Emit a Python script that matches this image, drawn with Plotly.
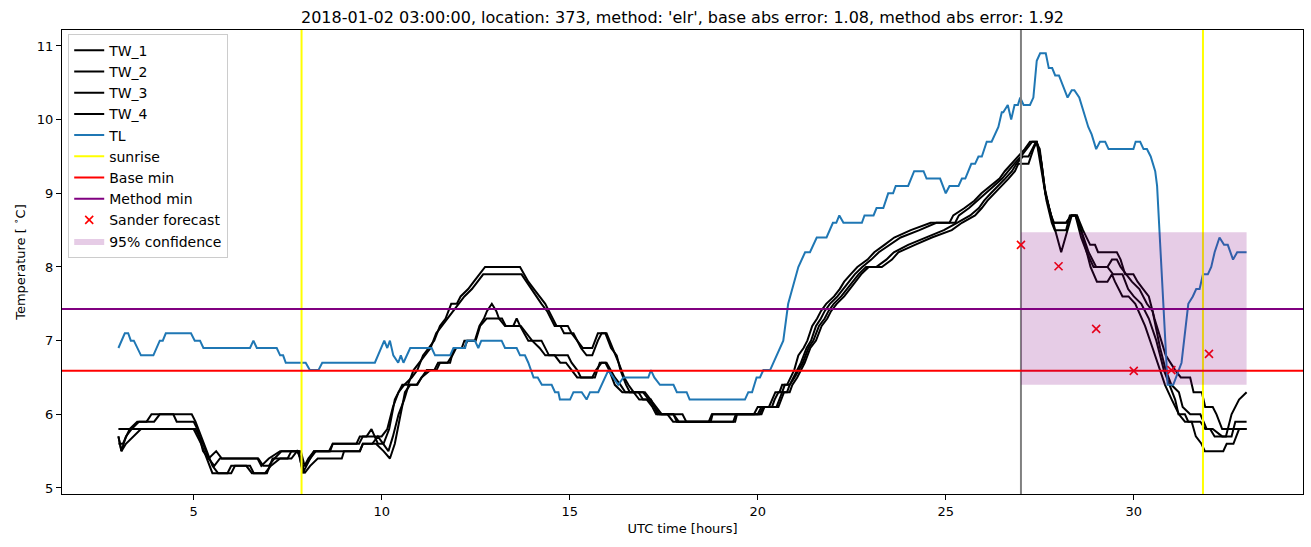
import plotly.graph_objects as go

# ---------------- data (hours UTC, temperature in deg C) ----------------
tl_t = [3.0, 3.17, 3.26, 3.33, 3.41, 3.6, 3.93, 4.1, 4.18, 4.26, 4.93, 5.03, 5.17, 5.26, 6.5, 6.59, 6.68,
        7.21, 7.3, 7.38, 7.45, 7.98, 8.09, 8.32, 8.42, 9.82, 10.07, 10.15, 10.22, 10.31, 10.44, 10.51, 10.58,
        10.76, 11.33, 11.42, 11.82, 11.91, 12.22, 12.26, 12.48, 12.57, 12.65, 13.19, 13.28, 13.59, 13.68,
        13.81, 13.9, 14.04, 14.15, 14.26, 14.52, 14.61, 14.7, 14.74, 15.01, 15.1, 15.32, 15.45, 15.54, 15.76,
        16.03, 16.29, 16.43, 17.09, 17.16, 17.25, 17.4, 17.76, 17.85, 18.11, 18.19, 19.66, 19.75, 19.85,
        19.97, 20.06, 20.15, 20.33, 20.68, 20.81, 21.08, 21.26, 21.39, 21.57, 21.83, 22.0, 22.09, 22.17,
        22.28, 22.77, 22.84, 23.08, 23.16, 23.34, 23.47, 23.6, 23.67, 24.0, 24.16, 24.41, 24.49, 24.85, 25.0,
        25.1, 25.34, 25.43, 25.52, 25.68, 25.78, 25.87, 25.96, 26.09, 26.22, 26.4, 26.49, 26.53, 26.65,
        26.74, 26.83, 26.92, 26.98, 27.07, 27.24, 27.33, 27.42, 27.51, 27.66, 27.74, 27.83, 27.91, 28.01,
        28.24, 28.35, 28.42, 28.55, 28.66, 28.79, 28.88, 29.0, 29.1, 29.24, 29.33, 29.99, 30.05, 30.17,
        30.26, 30.35, 30.45, 30.57, 30.62, 30.9, 31.05, 31.13, 31.27, 31.45, 31.57, 31.66, 31.75, 31.84,
        31.97, 32.06, 32.15, 32.28, 32.4, 32.5, 32.64, 32.75, 33.0]
tl_v = [6.9, 7.1, 7.1, 7.0, 7.0, 6.8, 6.8, 7.0, 7.0, 7.1, 7.1, 7.0, 7.0, 6.9, 6.9, 7.0, 6.9,
        6.9, 6.8, 6.8, 6.7, 6.7, 6.6, 6.6, 6.7, 6.7, 7.0, 6.9, 7.0, 6.8, 6.7, 6.8, 6.7,
        6.9, 6.9, 6.8, 6.8, 6.9, 6.9, 7.0, 7.0, 6.9, 7.0, 7.0, 6.9, 6.9, 6.8,
        6.8, 6.7, 6.5, 6.5, 6.4, 6.4, 6.3, 6.3, 6.2, 6.2, 6.3, 6.3, 6.2, 6.3, 6.3,
        6.6, 6.4, 6.5, 6.5, 6.6, 6.5, 6.4, 6.4, 6.3, 6.3, 6.2, 6.2, 6.3, 6.3,
        6.5, 6.5, 6.6, 6.6, 7.0, 7.5, 8.0, 8.2, 8.2, 8.4, 8.4, 8.6, 8.6, 8.7,
        8.6, 8.6, 8.7, 8.7, 8.8, 8.8, 9.0, 9.0, 9.1, 9.1, 9.3, 9.3, 9.2, 9.2, 9.0,
        9.1, 9.1, 9.2, 9.2, 9.4, 9.4, 9.5, 9.5, 9.7, 9.7, 9.9, 10.1, 10.1, 10.2,
        10.0, 10.2, 10.2, 10.3, 10.2, 10.2, 10.3, 10.8, 10.9, 10.9, 10.7, 10.7, 10.6, 10.6,
        10.3, 10.4, 10.4, 10.3, 10.1, 9.9, 9.8, 9.6, 9.7, 9.7, 9.6, 9.6, 9.7, 9.7,
        9.6, 9.6, 9.5, 9.3, 9.1, 6.4, 6.4, 6.5, 6.7, 7.5, 7.6, 7.7, 7.7, 7.9,
        7.9, 8.0, 8.2, 8.4, 8.3, 8.3, 8.1, 8.2, 8.2]

tw1_t = [3.0, 3.08, 3.2, 3.35, 3.55, 3.75, 3.88, 4.46, 4.55, 5.0, 5.1, 5.25, 5.4, 5.6, 5.75, 6.7, 6.8, 7.0,
         7.3, 7.85, 7.95, 8.1, 8.25, 8.6, 8.7, 9.4, 9.5, 10.0, 10.15, 10.3, 10.45, 10.6, 10.8, 10.95, 11.1,
         11.25, 11.4, 11.55, 11.7, 11.85, 12.0, 12.1, 12.3, 12.45, 12.6, 12.75, 13.68, 13.8, 13.9, 14.05,
         14.2, 14.35, 14.45, 14.55, 14.65, 14.95, 15.05, 15.2, 15.35, 15.6, 15.75, 15.95, 16.1, 16.25,
         16.35, 16.5, 16.6, 16.95, 17.1, 17.25, 17.4, 17.76, 17.9, 19.35, 19.42, 19.9, 20.0, 20.3, 20.38,
         20.47, 20.58, 20.65, 20.78, 20.88, 20.97, 21.08, 21.22, 21.32, 21.45, 21.58, 21.68, 21.82, 22.03,
         22.18, 22.3, 22.47, 22.65, 22.92, 23.1, 23.37, 23.63, 24.07, 24.6, 25.1, 25.2, 25.5, 25.76, 25.95,
         26.2, 26.43, 26.57, 26.75, 26.92, 27.1, 27.24, 27.42, 27.55, 27.65, 27.75, 27.85, 28.2, 28.33,
         28.49, 28.65, 28.84, 28.97, 29.05, 29.55, 29.65, 29.77, 29.99, 30.1, 30.25, 30.4, 30.55, 30.74,
         30.85, 31.1, 31.25, 31.5, 31.59, 31.81, 31.9, 32.1, 32.2, 32.35, 33.0]
tw1_v = [5.7, 5.5, 5.7, 5.8, 5.9, 5.9, 6.0, 6.0, 5.9, 5.9, 5.8, 5.5, 5.4, 5.5, 5.4, 5.4, 5.3, 5.4,
         5.5, 5.5, 5.3, 5.4, 5.5, 5.5, 5.6, 5.6, 5.7, 5.7, 5.8, 6.1, 6.3, 6.4, 6.5, 6.6, 6.8,
         6.9, 7.0, 7.2, 7.3, 7.5, 7.5, 7.6, 7.7, 7.8, 7.9, 8.0, 8.0, 7.9, 7.8, 7.7,
         7.6, 7.5, 7.4, 7.3, 7.2, 7.2, 7.1, 7.0, 6.9, 6.9, 7.1, 7.1, 6.9, 6.8,
         6.6, 6.4, 6.3, 6.3, 6.2, 6.1, 6.0, 6.0, 5.9, 5.9, 6.0, 6.0, 6.1, 6.1, 6.2,
         6.3, 6.3, 6.4, 6.4, 6.5, 6.6, 6.8, 6.9, 7.0, 7.2, 7.3, 7.4, 7.5, 7.6,
         7.7, 7.8, 7.9, 8.0, 8.1, 8.2, 8.3, 8.4, 8.5, 8.6, 8.6, 8.7, 8.8, 8.9, 9.0,
         9.1, 9.2, 9.3, 9.4, 9.5, 9.6, 9.7, 9.7, 9.4, 9.0, 8.8, 8.6, 8.6, 8.7,
         8.7, 8.5, 8.3, 8.3, 8.2, 8.2, 8.1, 7.9, 7.9, 7.8, 7.7, 7.6, 7.3, 7.0,
         6.8, 6.6, 6.5, 6.5, 6.3, 6.3, 6.1, 6.1, 6.0, 5.8, 5.8]

tw2_t = [3.0, 3.3, 3.5, 3.95, 4.1, 4.95, 5.05, 5.2, 5.35, 5.5, 5.65, 5.9, 6.0, 6.4, 6.55, 6.95, 7.1, 7.5,
         7.6, 7.8, 7.9, 8.0, 8.2, 8.63, 8.7, 9.33, 9.42, 9.6, 9.73, 9.9, 10.05, 10.2, 10.35, 10.55, 10.7,
         10.85, 11.0, 11.15, 11.3, 11.45, 11.6, 11.75, 11.9, 12.05, 12.2, 12.4, 12.55, 12.7, 13.72, 13.85,
         13.99, 14.1, 14.25, 14.4, 14.5, 14.6, 14.75, 14.85, 15.1, 15.2, 15.3, 15.45, 15.6, 15.75, 15.85,
         15.98, 16.15, 16.3, 16.45, 16.56, 16.7, 17.0, 17.15, 17.3, 17.45, 18.0, 18.1, 18.7, 18.78, 20.0,
         20.1, 20.38, 20.45, 20.55, 20.65, 20.72, 20.85, 20.95, 21.05, 21.15, 21.3, 21.42, 21.55, 21.68,
         21.78, 21.92, 22.12, 22.28, 22.42, 22.58, 22.78, 23.02, 23.22, 23.5, 23.8, 24.3, 24.75, 25.25,
         25.35, 25.62, 25.85, 26.05, 26.28, 26.5, 26.65, 26.82, 27.0, 27.15, 27.3, 27.42, 27.55, 27.68,
         27.82, 27.9, 28.2, 28.3, 28.45, 28.6, 28.75, 28.93, 29.3, 29.42, 29.55, 29.65, 29.8, 29.95, 30.15,
         30.35, 30.5, 30.7, 30.85, 31.0, 31.2, 31.3, 31.5, 31.77, 31.94, 32.03, 32.15, 32.6, 32.7, 33.0]
tw2_v = [5.8, 5.8, 5.9, 5.9, 6.0, 6.0, 5.9, 5.7, 5.5, 5.3, 5.2, 5.2, 5.3, 5.3, 5.2, 5.2, 5.4, 5.4,
         5.5, 5.5, 5.2, 5.3, 5.5, 5.5, 5.6, 5.6, 5.7, 5.7, 5.8, 5.6, 5.6, 5.8, 6.2, 6.4, 6.4,
         6.6, 6.7, 6.8, 6.9, 7.1, 7.2, 7.3, 7.4, 7.5, 7.6, 7.7, 7.8, 7.9, 7.9, 7.8,
         7.7, 7.6, 7.5, 7.4, 7.3, 7.2, 7.2, 7.1, 7.1, 7.0, 6.9, 6.8, 6.8, 7.0, 7.1,
         7.1, 6.9, 6.7, 6.5, 6.4, 6.3, 6.3, 6.2, 6.1, 6.0, 6.0, 5.9, 5.9, 6.0, 6.0,
         6.1, 6.1, 6.2, 6.3, 6.3, 6.4, 6.4, 6.5, 6.6, 6.7, 6.9, 7.0, 7.2, 7.3,
         7.4, 7.5, 7.6, 7.7, 7.8, 7.9, 8.0, 8.1, 8.2, 8.3, 8.4, 8.5, 8.6, 8.6,
         8.7, 8.8, 8.9, 9.0, 9.1, 9.2, 9.3, 9.4, 9.5, 9.6, 9.7, 9.7, 9.3, 8.9,
         8.6, 8.5, 8.5, 8.7, 8.7, 8.4, 8.2, 8.0, 8.0, 8.1, 8.1, 8.0, 7.9, 7.8, 7.7,
         7.5, 7.4, 6.9, 6.6, 6.4, 6.3, 6.1, 6.0, 6.0, 5.8, 5.8, 5.7, 5.7, 5.9, 5.9]

tw3_t = [3.0, 3.12, 3.3, 5.0, 5.2, 5.35, 5.5, 6.0, 6.1, 6.5, 6.6, 6.9, 7.05, 7.3, 7.6, 7.75, 7.85, 7.95,
         8.1, 8.3, 8.94, 9.0, 9.42, 9.5, 9.85, 10.05, 10.22, 10.35, 10.5, 10.62, 10.76, 10.95, 11.06, 11.3,
         11.46, 11.55, 11.82, 11.92, 12.13, 12.2, 12.48, 12.6, 12.72, 12.8, 12.93, 13.05, 13.12, 13.28,
         13.5, 13.59, 13.68, 13.9, 14.25, 14.35, 14.45, 14.95, 15.05, 15.2, 15.3, 15.67, 15.8, 15.98, 16.1,
         16.2, 16.35, 16.48, 16.83, 16.95, 17.16, 17.25, 17.34, 17.76, 17.85, 19.4, 19.45, 20.05, 20.15,
         20.55, 20.62, 20.7, 20.85, 20.92, 21.05, 21.15, 21.25, 21.4, 21.55, 21.7, 21.85, 21.95, 22.1,
         22.3, 22.45, 22.6, 22.75, 22.95, 23.3, 23.57, 23.74, 24.18, 24.63, 25.16, 25.43, 25.78, 25.96,
         26.11, 26.3, 26.49, 26.67, 26.84, 26.93, 27.2, 27.33, 27.42, 27.52, 27.65, 27.8, 27.88, 28.2,
         28.35, 28.45, 28.6, 28.8, 29.0, 29.3, 29.45, 29.7, 29.85, 30.0, 30.2, 30.4, 30.6, 30.8, 30.95,
         31.1, 31.19, 31.36, 31.45, 31.77, 31.9, 32.1, 32.35, 32.45, 32.6, 32.8, 33.0]
tw3_v = [5.6, 5.6, 5.8, 5.8, 5.6, 5.4, 5.2, 5.2, 5.3, 5.3, 5.2, 5.2, 5.3, 5.4, 5.4, 5.5, 5.4, 5.2,
         5.3, 5.4, 5.4, 5.5, 5.5, 5.6, 5.6, 5.5, 5.4, 5.6, 6.0, 6.3, 6.4, 6.4, 6.5, 6.6,
         6.6, 6.7, 6.7, 6.9, 6.9, 7.0, 7.0, 7.2, 7.3, 7.4, 7.5, 7.4, 7.3, 7.2,
         7.2, 7.3, 7.2, 7.0, 7.0, 6.9, 6.8, 6.8, 6.7, 6.6, 6.5, 6.5, 6.7, 6.7, 6.6,
         6.5, 6.4, 6.3, 6.3, 6.2, 6.2, 6.1, 6.0, 6.0, 5.9, 5.9, 6.0, 6.0, 6.1,
         6.1, 6.2, 6.3, 6.3, 6.4, 6.5, 6.6, 6.7, 6.9, 7.0, 7.2, 7.3, 7.4, 7.5,
         7.6, 7.7, 7.8, 7.9, 8.0, 8.0, 8.1, 8.2, 8.3, 8.4, 8.5, 8.6, 8.7, 8.8,
         8.9, 9.0, 9.1, 9.2, 9.3, 9.4, 9.4, 9.6, 9.7, 9.5, 9.0, 8.7, 8.6, 8.6,
         8.7, 8.7, 8.5, 8.2, 8.0, 8.0, 7.9, 7.9, 7.7, 7.6, 7.5, 7.3, 7.0, 6.6, 6.4,
         6.2, 6.0, 6.0, 5.9, 5.9, 5.8, 5.8, 5.7, 5.7, 6.0, 6.2, 6.3]

tw4_t = [3.0, 3.08, 3.2, 3.4, 3.6, 5.05, 5.25, 5.4, 5.55, 5.7, 6.72, 6.85, 7.0, 7.15, 7.34, 7.78, 7.87,
         7.95, 8.05, 8.2, 9.42, 9.5, 9.75, 9.9, 10.05, 10.18, 10.3, 10.45, 10.6, 10.72, 10.93, 11.06, 11.2,
         11.4, 11.5, 11.75, 11.88, 11.98, 12.2, 12.28, 12.5, 12.62, 12.79, 13.2, 13.3, 13.7, 13.85, 14.0,
         14.2, 14.35, 14.6, 14.75, 14.9, 15.05, 15.2, 15.6, 15.7, 15.85, 15.95, 16.05, 16.2, 16.4, 16.7,
         16.85, 17.05, 17.2, 17.3, 17.6, 17.75, 18.75, 18.8, 20.1, 20.18, 20.5, 20.57, 20.65, 20.78, 20.85,
         20.98, 21.1, 21.2, 21.35, 21.48, 21.63, 21.78, 21.88, 22.02, 22.22, 22.37, 22.52, 22.68, 22.88,
         23.15, 23.42, 23.62, 24.0, 24.45, 24.95, 25.3, 25.65, 25.88, 26.02, 26.2, 26.4, 26.58, 26.76,
         26.88, 27.05, 27.2, 27.3, 27.4, 27.5, 27.62, 27.75, 27.85, 28.07, 28.35, 28.49, 28.65, 28.85,
         29.02, 29.3, 29.42, 29.5, 29.7, 29.86, 30.04, 30.3, 30.5, 30.83, 31.01, 31.2, 31.36, 31.54,
         31.65, 31.8, 31.89, 32.38, 32.47, 32.65, 32.8, 33.0]
tw4_v = [5.7, 5.5, 5.6, 5.7, 5.8, 5.8, 5.6, 5.4, 5.3, 5.4, 5.4, 5.3, 5.3, 5.4, 5.5, 5.5, 5.3,
         5.3, 5.4, 5.5, 5.5, 5.6, 5.6, 5.7, 5.6, 5.5, 5.7, 6.0, 6.2, 6.4, 6.4, 6.5, 6.6,
         6.6, 6.7, 6.7, 6.8, 6.9, 6.9, 7.0, 7.0, 7.2, 7.3, 7.3, 7.2, 7.2, 7.1, 7.0,
         6.9, 6.8, 6.8, 6.7, 6.7, 6.6, 6.5, 6.5, 6.6, 6.7, 6.7, 6.6, 6.4, 6.3, 6.3,
         6.2, 6.2, 6.1, 6.0, 6.0, 5.9, 5.9, 6.0, 6.0, 6.1, 6.1, 6.2, 6.3, 6.3, 6.4,
         6.5, 6.6, 6.7, 6.9, 7.0, 7.2, 7.3, 7.4, 7.5, 7.6, 7.7, 7.8, 7.9, 8.0,
         8.0, 8.1, 8.2, 8.3, 8.4, 8.5, 8.6, 8.7, 8.8, 8.9, 9.0, 9.1, 9.2, 9.3,
         9.4, 9.5, 9.5, 9.6, 9.7, 9.6, 9.1, 8.8, 8.6, 8.2, 8.7, 8.7, 8.4, 8.0,
         7.8, 7.8, 7.9, 7.8, 7.6, 7.6, 7.5, 7.2, 6.9, 6.4, 6.2, 6.0, 5.9, 5.9,
         5.7, 5.6, 5.5, 5.5, 5.6, 5.6, 5.8, 5.8]

sunrise_hours = [7.87, 31.84]
forecast_hour = 27.0
base_min = 6.59
method_min = 7.43
sander_t = [27, 28, 29, 30, 31, 32]
sander_v = [8.30, 8.01, 7.16, 6.59, 6.60, 6.82]
conf_t = [27.0, 33.0]
conf_v = [6.40, 8.47]

title = ("2018-01-02 03:00:00, location: 373, method: 'elr', "
         "base abs error: 1.08, method abs error: 1.92")

# axis ranges (matplotlib-style margins)
x_range = [1.5, 34.5]
y_range = [4.918, 11.217]

# ---------------- figure ----------------
fig = go.Figure()
black = dict(color="black", width=2)
for name, t, v in [("TW_1", tw1_t, tw1_v), ("TW_2", tw2_t, tw2_v),
                   ("TW_3", tw3_t, tw3_v), ("TW_4", tw4_t, tw4_v)]:
    fig.add_trace(go.Scatter(x=t, y=v, mode="lines", name=name, line=black))

fig.add_trace(go.Scatter(x=tl_t, y=tl_v, mode="lines", name="TL",
                         line=dict(color="#1f77b4", width=2)))

# forecast time (grey vertical line, not in legend)
fig.add_trace(go.Scatter(x=[forecast_hour, forecast_hour], y=y_range, mode="lines",
                         line=dict(color="#808080", width=2), showlegend=False,
                         hoverinfo="skip"))

sx, sy = [], []
for s in sunrise_hours:
    sx += [s, s, None]
    sy += [y_range[0], y_range[1], None]
fig.add_trace(go.Scatter(x=sx, y=sy, mode="lines", name="sunrise",
                         line=dict(color="#ffff00", width=2)))

fig.add_trace(go.Scatter(x=x_range, y=[base_min, base_min], mode="lines", name="Base min",
                         line=dict(color="#ff0000", width=2)))
fig.add_trace(go.Scatter(x=x_range, y=[method_min, method_min], mode="lines", name="Method min",
                         line=dict(color="#800080", width=2)))

fig.add_trace(go.Scatter(x=sander_t, y=sander_v, mode="markers", name="Sander forecast",
                         marker=dict(symbol="x-thin", size=8, color="red",
                                     line=dict(color="red", width=1.6))))

fig.add_trace(go.Scatter(x=[conf_t[0], conf_t[1], conf_t[1], conf_t[0], conf_t[0]],
                         y=[conf_v[0], conf_v[0], conf_v[1], conf_v[1], conf_v[0]],
                         mode="lines", fill="toself", name="95% confidence",
                         fillcolor="rgba(128,0,128,0.2)", line=dict(width=0)))

font_family = "DejaVu Sans, sans-serif"
axis_common = dict(showline=True, mirror=True, linecolor="black", linewidth=1,
                   ticks="outside", ticklen=5, tickwidth=1, tickcolor="black",
                   showgrid=False, zeroline=False,
                   tickfont=dict(family=font_family, size=13, color="black"))

fig.update_layout(
    width=1311, height=547,
    margin=dict(l=62, r=8, t=30, b=53),
    paper_bgcolor="white", plot_bgcolor="white",
    font=dict(family=font_family, size=13, color="black"),
    title=dict(text=title, x=(62 + 1303) / 2 / 1311, xanchor="center", y=1 - 17 / 547,
               yanchor="middle", font=dict(family=font_family, size=16, color="black")),
    xaxis=dict(range=x_range, tickvals=[5, 10, 15, 20, 25, 30],
               title=dict(text="UTC time [hours]", standoff=6,
                          font=dict(family=font_family, size=13)), **axis_common),
    yaxis=dict(range=y_range, tickvals=[5, 6, 7, 8, 9, 10, 11],
               title=dict(text="Temperature [ <sup>∘</sup>C]", standoff=8,
                          font=dict(family=font_family, size=13)), **axis_common),
    legend=dict(x=0.005, y=0.992, xanchor="left", yanchor="top",
                bgcolor="rgba(255,255,255,0.8)", bordercolor="#cccccc", borderwidth=1,
                font=dict(family=font_family, size=14), tracegroupgap=0),
    showlegend=True,
)

fig.write_html("out.html")
